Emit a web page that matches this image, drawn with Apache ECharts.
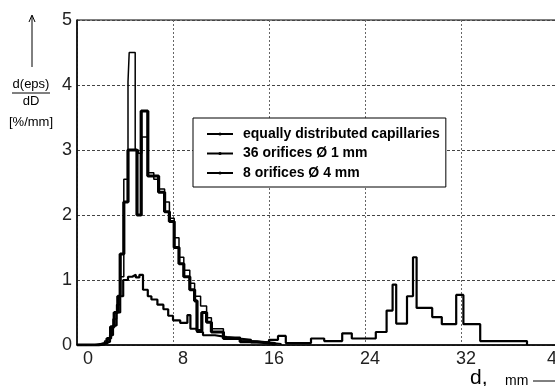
<!DOCTYPE html>
<html>
<head>
<meta charset="utf-8">
<script src="https://cdn.jsdelivr.net/npm/echarts@6/dist/echarts.min.js"></script>
<style>
  html, body { margin: 0; padding: 0; background: #fff; }
  #chart { width: 555px; height: 386px; }
</style>
</head>
<body>
<div id="chart"></div>
<script>
// Bubble size distributions d(eps)/dD over bubble diameter d (mm), drawn as step histograms.
const seriesNames = ['equally distributed capillaries', '36 orifices Ø 1 mm', '8 orifices Ø 4 mm'];
const xTicks = [0, 8, 16, 24, 32, 40];
const yTicks = [0, 1, 2, 3, 4, 5];

// bin left edges (mm) and densities (%/mm)
const capillaryEdges  = [0, 1.5, 2.3, 2.75, 3.0, 3.3, 3.6, 3.9, 4.25, 4.35, 4.85, 5.1, 5.4, 5.9, 6.4, 6.8, 7.3, 7.7, 8.1, 8.5, 8.9, 9.4, 9.8, 10.3, 10.8, 11.2, 12.2, 13.6, 14.7, 16.0, 17.0];
const capillaryValues = [0, 0.02, 0.06, 0.2, 0.4, 0.62, 1.05, 2.55, 4.05, 4.5, 3.0, 2.95, 3.2, 2.65, 2.55, 2.4, 2.2, 1.95, 1.65, 1.35, 1.15, 0.95, 0.75, 0.6, 0.42, 0.25, 0.12, 0.06, 0.04, 0.02, 0];

const orifice1Edges  = [0, 1.8, 2.5, 2.8, 3.1, 3.4, 3.6, 3.9, 4.25, 5.0, 5.35, 5.9, 6.4, 6.8, 7.3, 7.7, 8.1, 8.5, 8.9, 9.4, 9.8, 10.0, 10.4, 10.8, 11.2, 12.2, 13.6, 15.0, 16.5];
const orifice1Values = [0, 0.03, 0.1, 0.28, 0.5, 0.75, 1.4, 2.2, 3.0, 2.0, 3.6, 2.6, 2.6, 2.35, 2.05, 1.9, 1.5, 1.25, 1.05, 0.85, 0.68, 0.22, 0.5, 0.35, 0.2, 0.1, 0.05, 0.02, 0];

const orifice4Edges  = [0, 1.5, 2.3, 2.75, 3.0, 3.3, 3.6, 3.85, 4.25, 4.6, 4.9, 5.2, 5.5, 5.9, 6.2, 6.7, 7.2, 7.6, 8.0, 8.6, 9.2, 9.45, 10.0, 10.5, 11.5, 12.5, 13.5, 14.5, 16.0, 16.75, 17.4, 19.5, 20.6, 22.1, 22.9, 24.9, 25.8, 26.3, 26.6, 27.5, 28.0, 28.3, 29.6, 30.4, 31.6, 32.2, 33.6, 37.5];
const orifice4Values = [0, 0.02, 0.05, 0.15, 0.3, 0.5, 0.75, 1.0, 1.05, 1.08, 1.04, 1.08, 0.85, 0.75, 0.7, 0.62, 0.55, 0.45, 0.38, 0.34, 0.46, 0.25, 0.2, 0.15, 0.12, 0.1, 0.08, 0.04, 0.08, 0.14, 0.03, 0.1, 0.06, 0.18, 0.1, 0.2, 0.53, 0.93, 0.33, 0.75, 1.35, 0.57, 0.43, 0.32, 0.77, 0.32, 0.06, 0];

const pairs = (edges, values) => edges.map((e, i) => [e, values[i]]);

const tickFont = { fontFamily: 'Liberation Sans', fontSize: 18, color: '#222' };

function stepSeries(name, edges, values, width) {
  return {
    name: name,
    type: 'line',
    step: 'end',
    data: pairs(edges, values),
    symbol: 'circle',
    symbolSize: 4,
    showSymbol: false,
    silent: true,
    animation: false,
    itemStyle: { color: '#000' },
    lineStyle: { color: '#000', width: width }
  };
}

const chart = echarts.init(document.getElementById('chart'), null, { renderer: 'canvas' });
chart.setOption({
  backgroundColor: '#fff',
  animation: false,
  grid: {
    left: 77, top: 20, right: -2, bottom: 41,
    containLabel: false, outerBoundsMode: 'none',
    show: true, borderColor: '#000', borderWidth: 1, backgroundColor: 'transparent'
  },
  xAxis: {
    type: 'value', min: xTicks[0], max: xTicks[xTicks.length - 1], interval: 8,
    axisLine: { lineStyle: { color: '#000', width: 1.5 } },
    axisTick: { show: false },
    splitLine: { show: true, lineStyle: { color: '#666', width: 1, type: [2, 2] } },
    axisLabel: {
      margin: 5,
      hideOverlap: false,
      formatter: v => v === 0 ? '{a|0}' : (v === 8 ? '{b|8}' : (v === 40 ? '{d|40}' : '{c|' + v + '}')),
      rich: {
        a: Object.assign({ padding: [0, 0, 0, 22] }, tickFont),
        b: Object.assign({ padding: [0, 0, 0, 20] }, tickFont),
        c: Object.assign({ padding: [0, 0, 0, 10] }, tickFont),
        d: Object.assign({ padding: [0, 0, 0, 0] }, tickFont)
      }
    }
  },
  yAxis: {
    type: 'value', min: yTicks[0], max: yTicks[yTicks.length - 1], interval: 1,
    axisLine: { show: true, lineStyle: { color: '#000', width: 1.5 } },
    axisTick: { show: false },
    splitLine: { show: true, lineStyle: { color: '#444', width: 1, type: [3, 2] } },
    axisLabel: Object.assign({ margin: 5 }, tickFont)
  },
  legend: {
    data: seriesNames,
    orient: 'vertical',
    left: 193, top: 118,
    backgroundColor: '#fff',
    borderColor: '#000', borderWidth: 1,
    padding: [8, 6, 6, 13],
    itemWidth: 26, itemHeight: 4, itemGap: 3.5,
    lineStyle: { width: 2 },
    selectedMode: false,
    textStyle: { fontFamily: 'Liberation Sans', fontWeight: 'bold', fontSize: 14, lineHeight: 16, color: '#000', padding: [0, 0, 0, 5] }
  },
  series: [
    stepSeries(seriesNames[0], capillaryEdges, capillaryValues, 1.5),
    stepSeries(seriesNames[1], orifice1Edges, orifice1Values, 3.2),
    stepSeries(seriesNames[2], orifice4Edges, orifice4Values, 2.2)
  ],
  graphic: [
    // y-axis title: arrow and d(eps)/dD [%/mm]
    { type: 'line', shape: { x1: 32, y1: 67, x2: 32, y2: 16 }, style: { stroke: '#000', lineWidth: 1 } },
    { type: 'polyline', shape: { points: [[29, 22], [32, 15], [35, 22]] }, style: { stroke: '#000', lineWidth: 1, fill: null } },
    { type: 'text', x: 31, y: 84, style: { text: 'd(eps)', fontFamily: 'Liberation Sans', fontSize: 13, fill: '#000', align: 'center', verticalAlign: 'middle' } },
    { type: 'line', shape: { x1: 12, y1: 93, x2: 50, y2: 93 }, style: { stroke: '#000', lineWidth: 1 } },
    { type: 'text', x: 31, y: 101, style: { text: 'dD', fontFamily: 'Liberation Sans', fontSize: 13, fill: '#000', align: 'center', verticalAlign: 'middle' } },
    { type: 'text', x: 31, y: 122, style: { text: '[%/mm]', fontFamily: 'Liberation Sans', fontSize: 13, fill: '#000', align: 'center', verticalAlign: 'middle' } },
    // x-axis title: d, mm with arrow
    { type: 'text', x: 470, y: 378, style: { text: 'd,', fontFamily: 'Liberation Sans', fontSize: 21, fill: '#000', align: 'left', verticalAlign: 'middle' } },
    { type: 'text', x: 505, y: 381, style: { text: 'mm', fontFamily: 'Liberation Sans', fontSize: 14, fill: '#000', align: 'left', verticalAlign: 'middle' } },
    { type: 'line', shape: { x1: 533, y1: 381, x2: 555, y2: 381 }, style: { stroke: '#000', lineWidth: 1 } }
  ]
});
</script>
</body>
</html>
